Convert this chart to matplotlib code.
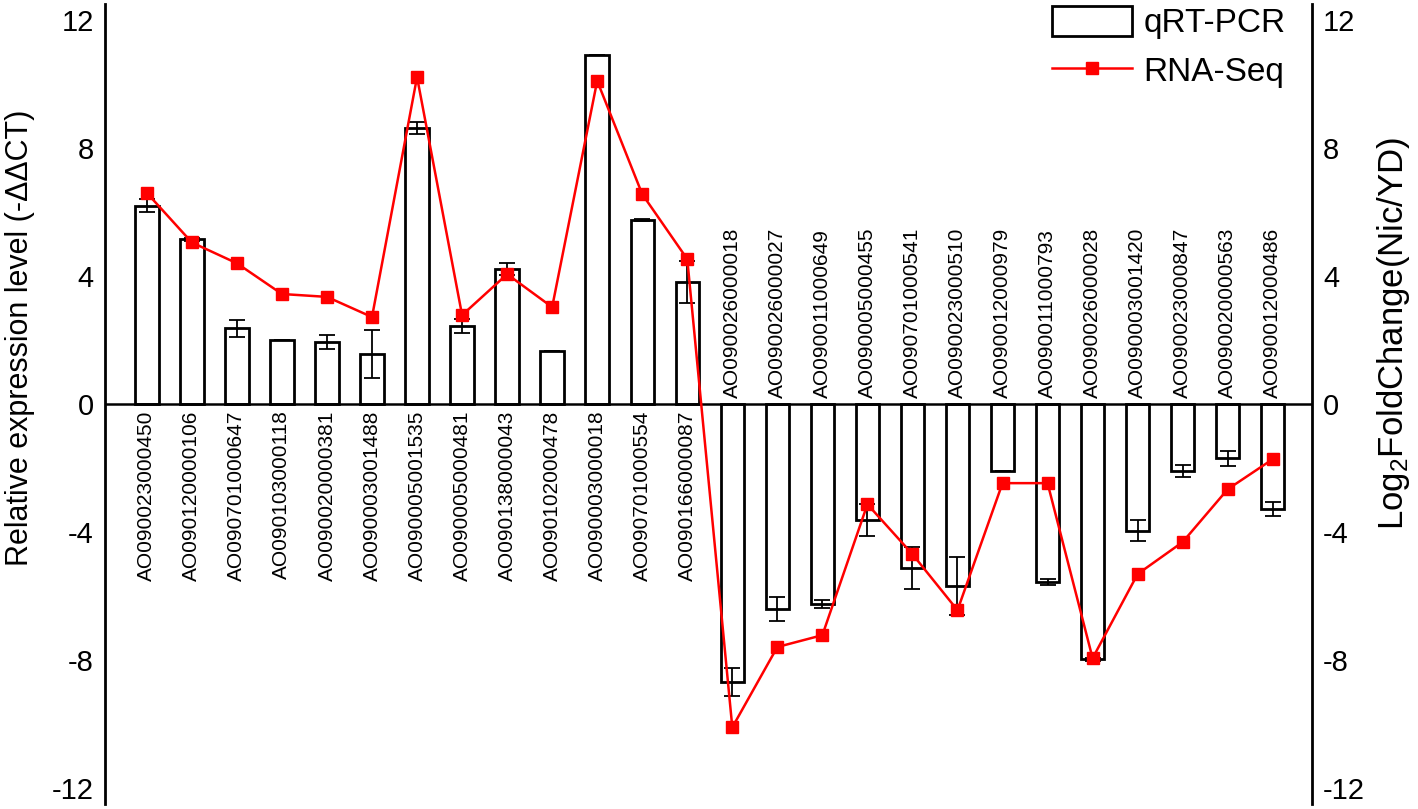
import numpy as np
import matplotlib
matplotlib.use("Agg")
import matplotlib.pyplot as plt

plt.rcParams['font.family'] = ['Liberation Sans', 'DejaVu Sans']
plt.rcParams['mathtext.default'] = 'regular'
plt.rcParams['axes.unicode_minus'] = False

# gene ids along the x axis
genes = ["AO090023000450", "AO090120000106", "AO090701000647", "AO090103000118",
         "AO090020000381", "AO090003001488", "AO090005001535", "AO090005000481",
         "AO090138000043", "AO090102000478", "AO090003000018", "AO090701000554",
         "AO090166000087", "AO090026000018", "AO090026000027", "AO090011000649",
         "AO090005000455", "AO090701000541", "AO090023000510", "AO090012000979",
         "AO090011000793", "AO090026000028", "AO090003001420", "AO090023000847",
         "AO090020000563", "AO090012000486"]

# qRT-PCR (-ddCT) with error bars
qpcr = [6.2, 5.15, 2.37, 2.0, 1.93, 1.56, 8.62, 2.44, 4.22, 1.66, 10.9, 5.75, 3.81,
        -8.69, -6.41, -6.25, -3.63, -5.13, -5.69, -2.09, -5.56, -7.97, -3.96, -2.09,
        -1.69, -3.28]
qpcr_err = [0.2, 0.05, 0.27, 0.0, 0.22, 0.75, 0.19, 0.23, 0.2, 0.0, 0.0, 0.03, 0.66,
            0.44, 0.37, 0.13, 0.5, 0.65, 0.9, 0.0, 0.1, 0.05, 0.33, 0.19, 0.23, 0.22]

# RNA-Seq log2 fold change
rnaseq = [6.6, 5.05, 4.4, 3.44, 3.35, 2.72, 10.22, 2.78, 4.06, 3.03, 10.1, 6.56, 4.53,
          -10.1, -7.59, -7.22, -3.13, -4.69, -6.44, -2.47, -2.47, -7.94, -5.31, -4.31,
          -2.66, -1.72]

x = np.arange(len(genes))

fig = plt.figure(figsize=(14.18, 8.09), dpi=100)
ax = fig.add_axes([0.074, 0.006, 0.8512, 0.989])

bars = ax.bar(x, qpcr, width=0.52, facecolor='white', edgecolor='black',
              linewidth=2.0, label='qRT-PCR', zorder=2)
ax.errorbar(x, qpcr, yerr=qpcr_err, fmt='none', ecolor='black', elinewidth=1.3,
            capsize=6, capthick=1.3, zorder=3)
ax.axhline(0, color='black', linewidth=1.8, zorder=4)

# gene labels next to the zero line, on the side opposite the bar
for xi, v, g in zip(x, qpcr, genes):
    if v >= 0:
        ax.text(xi, -0.2, g, rotation=90, ha='center', va='top', fontsize=15)
    else:
        ax.text(xi, 0.2, g, rotation=90, ha='center', va='bottom', fontsize=15)

ax.set_xlim(-0.93, 25.87)
ax.set_ylim(-12.5, 12.5)
ax.set_yticks([-12, -8, -4, 0, 4, 8, 12])
ax.set_xticks([])
for s in ['top', 'bottom', 'right']:
    ax.spines[s].set_visible(False)
ax.spines['left'].set_linewidth(2)
ax.tick_params(axis='y', length=0, labelsize=21, pad=8)

ax2 = ax.twinx()
line, = ax2.plot(x, rnaseq, color='red', linewidth=1.8, marker='s', markersize=8,
                 label='RNA-Seq', zorder=5)
ax2.set_ylim(-12.5, 12.5)
ax2.set_yticks([-12, -8, -4, 0, 4, 8, 12])
for s in ['top', 'bottom', 'left']:
    ax2.spines[s].set_visible(False)
ax2.spines['right'].set_linewidth(2)
ax2.tick_params(axis='y', length=0, labelsize=21, pad=8)

# axis titles placed as in the original (slightly above centre)
fig.text(0.014, 0.583, 'Relative expression level (-ΔΔCT)', rotation=90,
         ha='center', va='center', fontsize=22)
fig.text(0.983, 0.588, 'Log$_2$FoldChange(Nic/YD)', rotation=90,
         ha='center', va='center', fontsize=25)

ax2.legend([bars, line], ['qRT-PCR', 'RNA-Seq'], loc='upper right',
           bbox_to_anchor=(1.003, 1.035), frameon=False, fontsize=24,
           handlelength=2.4, handleheight=1.0, handletextpad=0.35, labelspacing=0.45)

fig.savefig('out.png', dpi=100)
